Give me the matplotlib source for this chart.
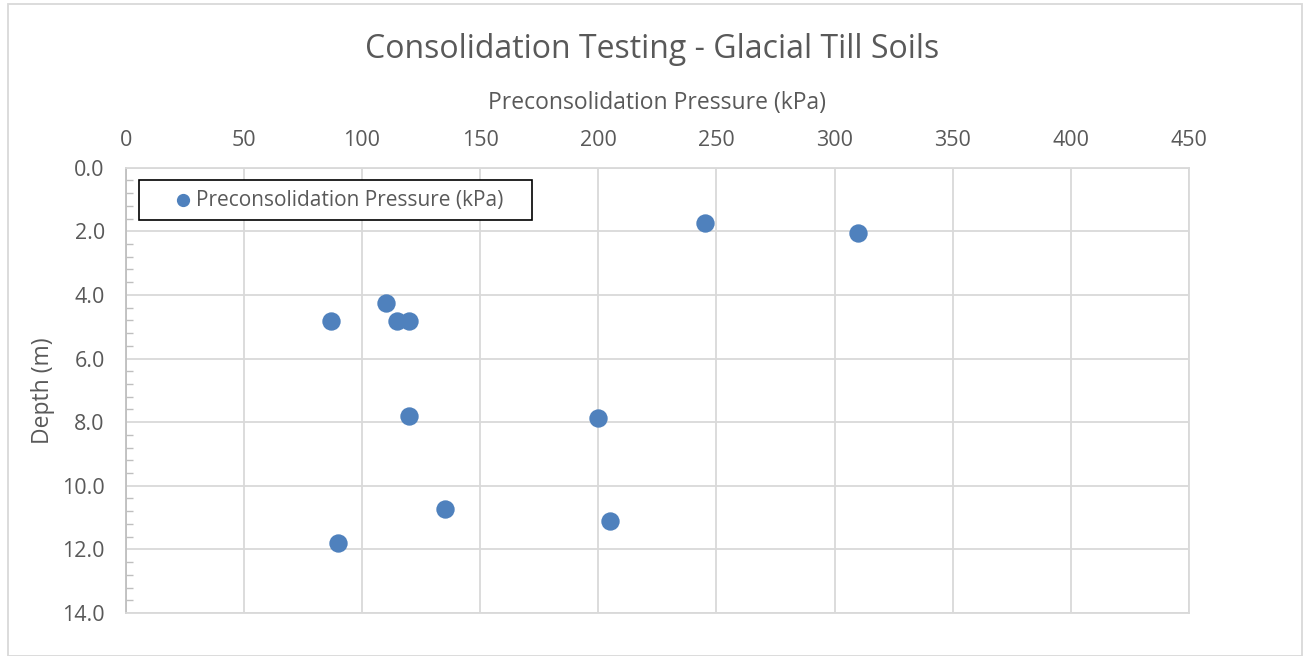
import matplotlib
matplotlib.use("Agg")
import matplotlib.pyplot as plt
from matplotlib.ticker import MultipleLocator, FormatStrFormatter
from matplotlib.patches import Rectangle

plt.rcParams["font.family"] = ["Open Sans", "DejaVu Sans"]

# data
pressure_kpa = [245, 310, 110, 87, 115, 120, 120, 200, 135, 205, 90]
depth_m = [1.75, 2.05, 4.25, 4.82, 4.82, 4.82, 7.82, 7.87, 10.72, 11.12, 11.8]

grid_col = "#d9d9d9"
text_col = "#595959"
dot_col = "#4f81bd"

W, H = 1304, 656
fig = plt.figure(figsize=(W/100, H/100), dpi=100)
ax = fig.add_axes([125.7/W, 1 - 613/H, (1189-125.7)/W, (613-167.7)/H])

ax.scatter(pressure_kpa, depth_m, s=175, color=dot_col, zorder=3,
           label="Preconsolidation Pressure (kPa)", linewidths=0)

ax.set_xlim(0, 450)
ax.set_ylim(14, 0)
ax.xaxis.set_major_locator(MultipleLocator(50))
ax.yaxis.set_major_locator(MultipleLocator(2))
ax.yaxis.set_minor_locator(MultipleLocator(0.4))
ax.yaxis.set_major_formatter(FormatStrFormatter("%.1f"))
ax.xaxis.tick_top()
ax.xaxis.set_label_position("top")
ax.grid(True, which="major", color=grid_col, linewidth=1.3)
ax.set_axisbelow(True)

for s in ax.spines.values():
  s.set_color(grid_col)
  s.set_linewidth(1.3)
ax.spines["left"].set_color("#bfbfbf")

ax.tick_params(axis="x", which="both", length=0, labelsize=15.5, colors=text_col, pad=12)
ax.tick_params(axis="y", which="major", length=0, labelsize=15.5, colors=text_col, pad=15)
ax.tick_params(axis="y", which="minor", direction="in", length=5, width=1, color="#bfbfbf")

ax.set_xlabel("Preconsolidation Pressure (kPa)", fontsize=16.5, color=text_col, labelpad=15)
ax.set_ylabel("Depth (m)", fontsize=16.5, color=text_col, labelpad=5)

fig.text(0.5, 1 - 50/H, "Consolidation Testing - Glacial Till Soils", ha="center", va="center",
         fontsize=23, color=text_col)

# legend, box drawn separately to match the wide Excel frame
leg = fig.legend(loc="center left", bbox_to_anchor=(173/W, 1 - 200/H), frameon=False,
                 fontsize=15, handletextpad=0.1, handlelength=1.0, borderpad=0,
                 markerscale=0.72, borderaxespad=0)
for t in leg.get_texts():
  t.set_color(text_col)
fig.patches.append(Rectangle((139/W, 1 - 220/H), (532-139)/W, 40/H, transform=fig.transFigure,
                             fill=True, facecolor="white", edgecolor="black", linewidth=1.2, zorder=5))
leg.set_zorder(6)

# outer chart border
fig.patches.append(Rectangle((8/W, 0), 1294/W, 1 - 4/H, transform=fig.transFigure,
                             fill=False, edgecolor=grid_col, linewidth=1.3))

fig.savefig("out.png", dpi=100)
plt.close()
